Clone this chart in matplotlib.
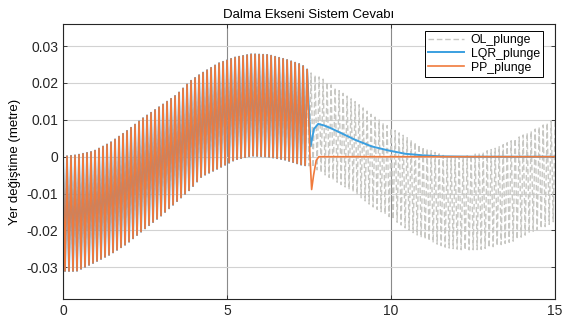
import numpy as np
import matplotlib.pyplot as plt

plt.rcParams['font.family'] = ['Liberation Sans', 'DejaVu Sans']

# envelope of the open-loop response
env_t = [0, 0.41, 0.92, 1.43, 1.94, 2.45, 2.96, 3.47, 3.87, 4.23, 4.74, 5.24, 5.75, 6.26, 6.77,
         7.28, 7.58, 7.89, 8.39, 8.9, 9.41, 9.92, 10.43, 10.94, 11.34, 11.7, 12.2, 12.71, 13.22,
         13.73, 14.24, 14.75, 15.05]
env_top = [0, 0.0004, 0.0014, 0.0037, 0.0069, 0.0105, 0.0136, 0.0168, 0.0204, 0.0226, 0.0253,
           0.0269, 0.0278, 0.0276, 0.0264, 0.0249, 0.0226, 0.0213, 0.0181, 0.015, 0.0114, 0.0082,
           0.0055, 0.0028, 0.0012, 0.0, 0.0, 0.001, 0.0024, 0.0046, 0.0068, 0.0091, 0.0105]
env_bot = [-0.031, -0.031, -0.0288, -0.0265, -0.0236, -0.0198, -0.0162, -0.0121, -0.0089, -0.0053,
           -0.0031, -0.0008, 0.0003, 0.0, -0.0008, -0.0022, -0.0026, -0.0044, -0.0071, -0.0098,
           -0.0134, -0.0161, -0.0193, -0.022, -0.0235, -0.0247, -0.0253, -0.0252, -0.0242, -0.0229,
           -0.0206, -0.0188, -0.017]
half_period = 0.061
t_switch = 7.5

# controlled responses after the switch
lqr_t = [7.55, 7.65, 7.78, 7.95, 8.15, 8.39, 8.9, 9.41, 9.92, 10.43, 10.94, 11.5, 12.5, 15.0]
lqr_y = [0.0028, 0.0075, 0.0089, 0.0085, 0.0078, 0.0068, 0.0046, 0.0028, 0.0017, 0.0008, 0.0004,
         0.0001, 0.0, 0.0]
pp_t = [7.53, 7.58, 7.64, 7.72, 7.8, 15.0]
pp_y = [0.0, -0.0089, -0.005, -0.001, 0.0, 0.0]

xticks = [0, 5, 10, 15]
yticks = [-0.03, -0.02, -0.01, 0, 0.01, 0.02, 0.03]
ytick_labels = ['-0.03', '-0.02', '-0.01', '0', '0.01', '0.02', '0.03']

# open loop: alternate between the upper and lower envelope every half period
t_ol = np.arange(0, 15.06, half_period)
top = np.interp(t_ol, env_t, env_top)
bot = np.interp(t_ol, env_t, env_bot)
y_ol = np.where(np.arange(len(t_ol)) % 2 == 0, top, bot)

pre = t_ol <= t_switch
t_lqr = np.concatenate([t_ol[pre], lqr_t])
y_lqr = np.concatenate([y_ol[pre], lqr_y])
t_pp = np.concatenate([t_ol[pre], pp_t])
y_pp = np.concatenate([y_ol[pre], pp_y])

fig = plt.figure(figsize=(5.63, 3.23), dpi=100)
ax = fig.add_axes([63 / 563, 1 - 299 / 323, 492 / 563, 275 / 323])

ax.plot(t_ol, y_ol, '--', color='#c8c8c4', lw=1.0, dashes=(4, 2), label='OL_plunge')
ax.plot(t_lqr, y_lqr, color='#3a9fe0', lw=1.4, label='LQR_plunge')
ax.plot(t_pp, y_pp, color='#f07a3c', lw=1.2, label='PP_plunge')

ax.set_xlim(0, 15)
ax.set_ylim(-0.0386, 0.036)
ax.set_xticks(xticks)
ax.set_xticklabels([str(v) for v in xticks])
ax.set_yticks(yticks)
ax.set_yticklabels(ytick_labels)

ax.grid(True, axis='y', color='#d2d2d2', lw=0.8)
ax.grid(True, axis='x', color='#8a8a8a', lw=0.8)
ax.set_axisbelow(True)
for s in ax.spines.values():
    s.set_color('#262626')
    s.set_linewidth(0.8)
ax.tick_params(direction='in', length=3, top=True, right=True, labelsize=10,
               colors='#262626', width=0.6)

ax.set_title('Dalma Ekseni Sistem Cevabı', fontsize=9.5, pad=4)
ax.set_ylabel('Yer değiştime (metre)', fontsize=9.5, labelpad=4)

leg = ax.legend(loc='upper right', fontsize=8.8, fancybox=False, framealpha=1,
                edgecolor='#000000', handlelength=3.0, handletextpad=0.5,
                borderpad=0.25, labelspacing=0.15, bbox_to_anchor=(0.975, 0.975),
                borderaxespad=0)
leg.get_frame().set_linewidth(0.7)

fig.savefig('out.png', dpi=100)
